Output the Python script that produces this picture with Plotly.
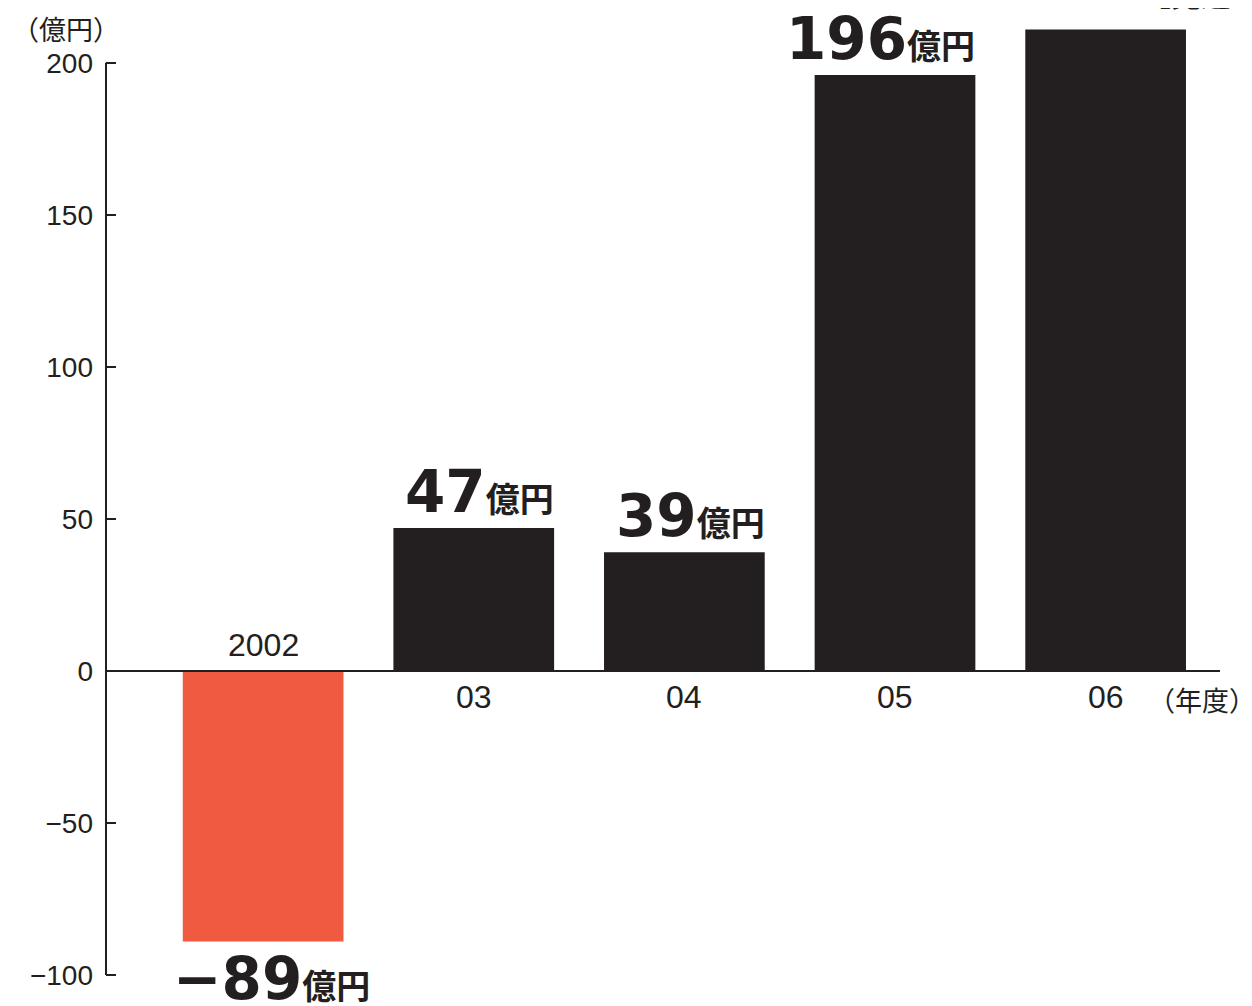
import plotly.graph_objects as go

years = ["2002", "03", "04", "05", "06"]
values = [-89, 47, 39, 196, 211]
value_labels = ["−89", "47", "39", "196", None]
bar_colors = ["#f05a40", "#231f20", "#231f20", "#231f20", "#231f20"]
y_ticks = [-100, -50, 0, 50, 100, 150, 200]
y_tick_text = ["−100", "−50", "0", "50", "100", "150", "200"]
unit_label = "（億円）"
year_label = "（年度）"
forecast_label = "【見込み】"

INK = "#231f20"
NUM_FONT = "Liberation Sans, Arial, Noto Sans CJK JP, sans-serif"
BIG_FONT = "DejaVu Sans, Noto Sans CJK JP, sans-serif"
JP_FONT = "Noto Sans CJK JP, sans-serif"
BAR_W = 0.763

fig = go.Figure(go.Bar(
    x=list(range(len(years))), y=values,
    marker=dict(color=bar_colors, line=dict(width=0)),
    width=BAR_W, hoverinfo="skip",
))

# page body has an 8px offset
W, H = 1244, 998
ml, mr, mt, mb = 98, 32, 12, 28
PW, PH = W - ml - mr, H - mt - mb

fig.update_layout(
    width=W, height=H, margin=dict(l=ml, r=mr, t=mt, b=mb, pad=0),
    paper_bgcolor="white", plot_bgcolor="white", showlegend=False,
    xaxis=dict(range=[-0.746, 4.543], showticklabels=False,
               showgrid=False, zeroline=False, showline=False, ticks=""),
    yaxis=dict(range=[-101, 214.1], tickvals=y_ticks, ticktext=y_tick_text,
               ticks="inside", ticklen=10, tickwidth=2, tickcolor=INK,
               showgrid=False, zeroline=False, showline=False,
               tickfont=dict(family=NUM_FONT, size=28, color=INK),
               ticklabelstandoff=12),
)

fig.add_shape(type="line", xref="paper", yref="y", x0=0, x1=0, y0=-100, y1=200,
              line=dict(color=INK, width=2))
fig.add_shape(type="line", xref="paper", yref="y", x0=0, x1=1, y0=0, y1=0,
              line=dict(color=INK, width=2))

for i, yr in enumerate(years):
    neg = values[i] < 0
    fig.add_annotation(x=i, y=0, text=yr, showarrow=False,
                       yanchor="bottom" if neg else "top",
                       yshift=6 if neg else -6,
                       font=dict(family=NUM_FONT, size=32, color=INK))

for i, yr in enumerate(years):
    if value_labels[i] is None:
        continue
    neg = values[i] < 0
    txt = ('<b>%s<span style="font-size:34px">億円</span></b>') % value_labels[i]
    if neg:
        fig.add_annotation(x=i, y=values[i], text=txt, showarrow=False,
                           xanchor="center", yanchor="top", xshift=8, yshift=-1,
                           font=dict(family=BIG_FONT, size=58, color=INK))
    else:
        fig.add_annotation(x=i + BAR_W / 2, y=values[i], text=txt, showarrow=False,
                           xanchor="right", yanchor="bottom", xshift=2, yshift=0,
                           font=dict(family=BIG_FONT, size=58, color=INK))

fig.add_annotation(xref="paper", yref="paper", x=(2 - ml) / PW,
                   y=1 - 8 / PH, xanchor="left", yanchor="middle",
                   text=unit_label, showarrow=False,
                   font=dict(family=JP_FONT, size=27, color=INK))
fig.add_annotation(xref="paper", yref="y", x=(1138 - ml) / PW, y=0,
                   xanchor="left", yanchor="top", yshift=-7,
                   text=year_label, showarrow=False,
                   font=dict(family=JP_FONT, size=27, color=INK))
fig.add_annotation(xref="paper", yref="paper", x=(1131 - ml) / PW,
                   y=1 + 3 / PH, xanchor="left", yanchor="bottom",
                   text="<b>" + forecast_label + "</b>", showarrow=False,
                   font=dict(family=JP_FONT, size=30, color=INK))

fig.write_html("out.html")
